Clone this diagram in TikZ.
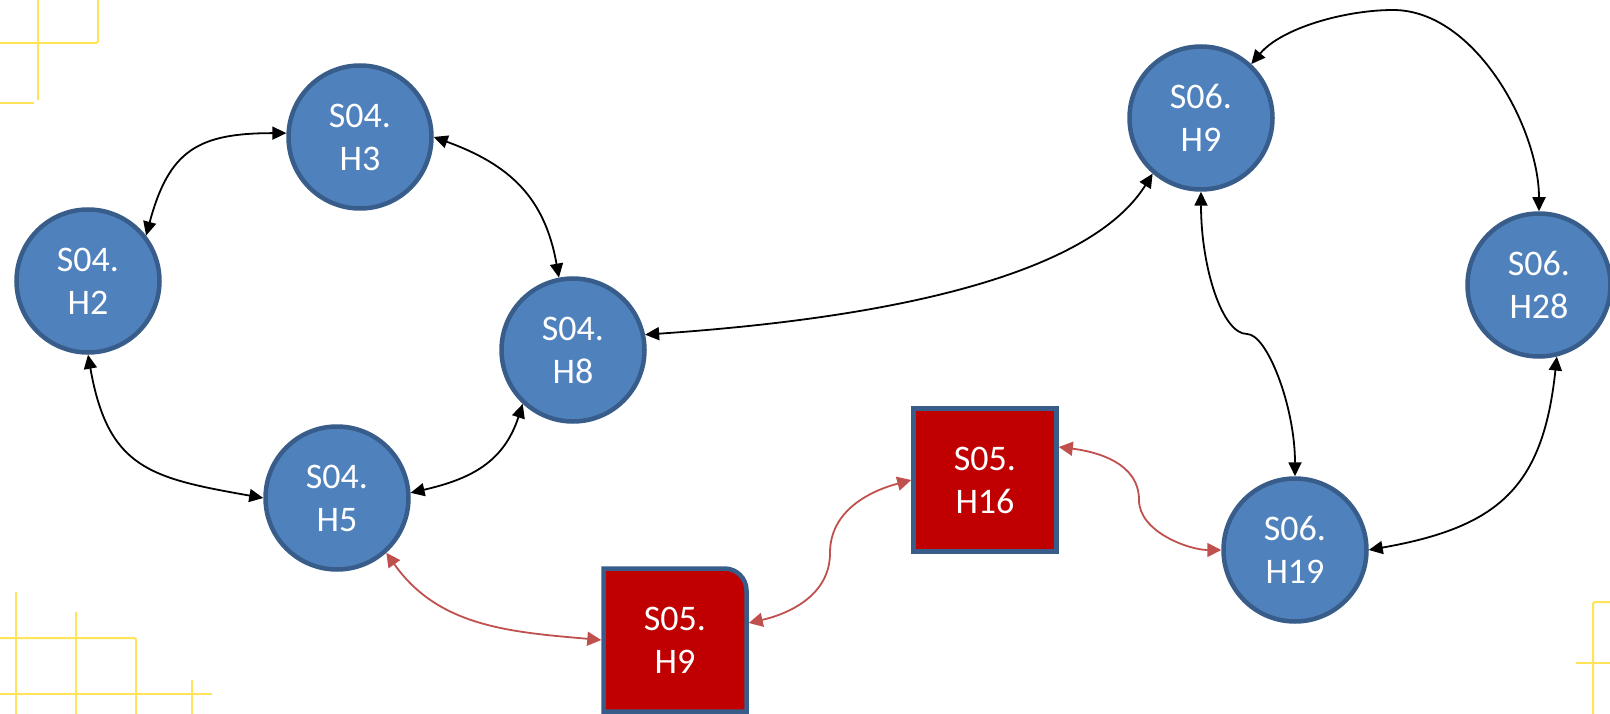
\documentclass[tikz,border=0pt]{standalone}
\usepackage{fontspec}
\setmainfont{Carlito}
\usetikzlibrary{arrows.meta,calc,backgrounds}
\definecolor{nodeblue}{HTML}{4F81BD}
\definecolor{nodeborder}{HTML}{385D8A}
\definecolor{nodered}{HTML}{C00000}
\definecolor{linkred}{HTML}{C0504D}
\definecolor{decoyellow}{RGB}{255,228,90}
\begin{document}
\begin{tikzpicture}[x=1pt,y=1pt,
  label font/.style={font=\fontsize{36}{43}\selectfont},
  state/.style={circle, fill=nodeblue, draw=nodeborder, line width=4.5pt,
    minimum size=143pt, inner sep=0pt, text=white, align=center, label font},
  hbox/.style={rectangle, fill=nodered, draw=nodeborder, line width=4.5pt,
    minimum size=143pt, inner sep=0pt, text=white, align=center, label font},
  hboxbare/.style={rectangle, line width=4.5pt,
    minimum size=143pt, inner sep=0pt, text=white, align=center, label font},
  blk/.style={draw=black, line width=1.8pt,
    {Triangle[length=14pt,width=13pt]}-{Triangle[length=14pt,width=13pt]}},
  redlink/.style={draw=linkred, line width=1.8pt,
    {Triangle[length=14pt,width=14pt]}-{Triangle[length=14pt,width=14pt]}},
  deco/.style={draw=decoyellow, line width=2pt}
]
\useasboundingbox (0,0) rectangle (1610,-714);

% yellow decorations
\draw[deco, rounded corners=2pt] (98,0) -- (98,-43) -- (0,-43);
\draw[deco] (38,0) -- (38,-100);
\draw[deco] (0,-103) -- (34,-103);
\draw[deco] (16,-592) -- (16,-714);
\draw[deco] (76,-612) -- (76,-714);
\draw[deco, rounded corners=2pt] (0,-638) -- (136,-638) -- (136,-714);
\draw[deco] (0,-694) -- (212,-694);
\draw[deco] (192,-680) -- (192,-714);
\draw[deco, rounded corners=2pt] (1610,-602) -- (1593,-602) -- (1593,-714);
\draw[deco] (1576,-663) -- (1610,-663);

% nodes
\node[state] (H3) at (360,-137) {S04.\\H3};
\node[state] (H2) at (88,-281) {S04.\\H2};
\node[state] (H8) at (573,-350) {S04.\\H8};
\node[state] (H5) at (337,-498) {S04.\\H5};
\node[state] (S6H9) at (1201,-118) {S06.\\H9};
\node[state] (H28) at (1539,-285) {S06.\\H28};
\node[state] (H19) at (1295,-550) {S06.\\H19};
\node[hbox] (H16) at (985,-480) {S05.\\H16};
\node[hboxbare] (S5H9) at (675,-640) {S05.\\H9};
\begin{scope}[on background layer]
\draw[fill=nodered, draw=nodeborder, line width=4.5pt]
  ($(S5H9.center)+(-71.5,-71.5)$) -- ($(S5H9.center)+(-71.5,71.5)$)
  -- ($(S5H9.center)+(49.5,71.5)$) arc[start angle=90, end angle=0, radius=22]
  -- ($(S5H9.center)+(71.5,-71.5)$) -- cycle;
\end{scope}

% helper coordinates for S-shaped connectors
\coordinate (m1) at (1247,-334);
\coordinate (t1) at (1393,-10);
\coordinate (m2) at (830,-553);
\coordinate (m3) at (1139,-500);

% black connectors
\draw[blk] (H3.177) to[out=180, in=75, looseness=1.3] (H2.38);
\draw[blk] (H3.0) to[out=-20, in=100, looseness=1.1] (H8.101);
\draw[blk] (H2.270) to[out=-80, in=170, looseness=1.3] (H5.180);
\draw[blk] (H8.227) to[out=252, in=13, looseness=1.1] (H5.4);
\draw[blk] (H8.12) to[out=4, in=238, looseness=0.7] (S6H9.229);
\draw[blk] (S6H9.270) .. controls +(0,-75) and +(-25,0) .. (m1)
  .. controls +(20,0) and +(0,70) .. (H19.90);
\draw[blk] (S6H9.47) to[out=50, in=180, looseness=0.8] (t1)
  to[out=0, in=90, looseness=0.85] (H28.90);
\draw[blk] (H28.284) to[out=264, in=10, looseness=1.25] (H19.0);

% red connectors
\draw[redlink] (H5.312) to[out=-55, in=175] (S5H9.west);
\draw[redlink] ([yshift=17pt]S5H9.east) to[out=13, in=-90] (m2)
  to[out=90, in=195] (H16.west);
\draw[redlink] ([yshift=33pt]H16.east) to[out=-7, in=90] (m3)
  to[out=-90, in=180, looseness=0.85] (H19.180);
\end{tikzpicture}
\end{document}
